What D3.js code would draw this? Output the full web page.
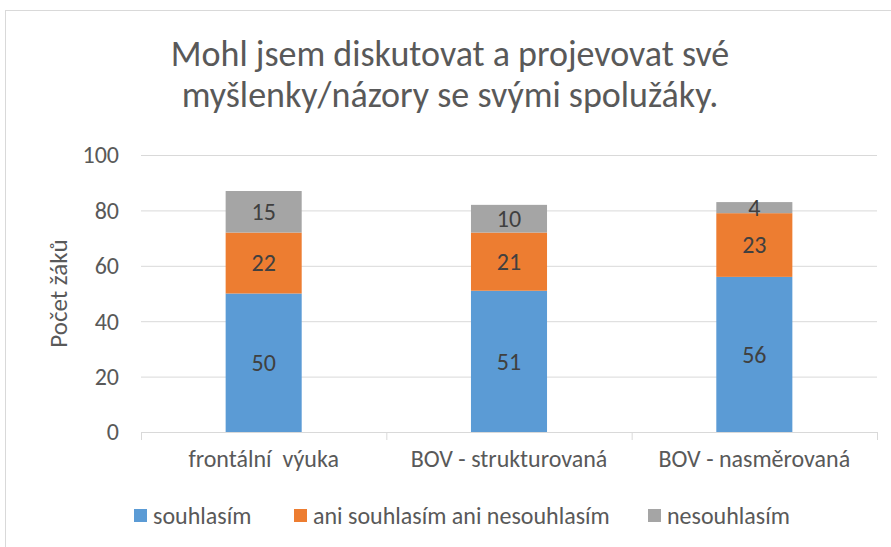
<!DOCTYPE html>
<html>
<head>
<meta charset="utf-8">
<script src="https://cdn.jsdelivr.net/npm/d3@7"></script>
<style>
body { margin: 0; background: #fff; }
svg { font-family: Carlito, "Noto Sans", sans-serif; }
</style>
</head>
<body>
<svg width="891" height="547"></svg>
<script>
var categories = ["frontální  výuka", "BOV - strukturovaná", "BOV - nasměrovaná"];
var seriesNames = ["souhlasím", "ani souhlasím ani nesouhlasím", "nesouhlasím"];
var souhlasim = [50, 51, 56];
var ani = [22, 21, 23];
var nesouhlasim = [15, 10, 4];
var yTicks = [0, 20, 40, 60, 80, 100];
var colors = ["#5B9BD5", "#ED7D31", "#A5A5A5"];

var rows = categories.map(function(c, i) {
    return { cat: c, s0: souhlasim[i], s1: ani[i], s2: nesouhlasim[i] };
});

var svg = d3.select("svg");

// chart frame
svg.append("rect")
    .attr("x", 5.5).attr("y", 10.5)
    .attr("width", 900).attr("height", 600)
    .attr("fill", "none").attr("stroke", "#d9d9d9");

var x = d3.scaleBand().domain(categories).range([141, 877]).paddingInner(0).paddingOuter(0);
var y = d3.scaleLinear().domain([0, 100]).range([432, 155]);

// gridlines
svg.append("g").selectAll("line")
    .data(yTicks.slice(1))
    .enter().append("line")
    .attr("x1", 141).attr("x2", 877)
    .attr("y1", d => y(d) + 0.5).attr("y2", d => y(d) + 0.5)
    .attr("stroke", "#d9d9d9").attr("stroke-width", 1);

// y tick labels
svg.append("g").selectAll("text")
    .data(yTicks)
    .enter().append("text")
    .attr("x", 119).attr("y", d => y(d))
    .attr("dy", "0.35em")
    .attr("text-anchor", "end")
    .attr("font-size", 24).attr("fill", "#595959")
    .text(d => d);

var stack = d3.stack().keys(["s0", "s1", "s2"]);
var layers = stack(rows);
var barW = x.bandwidth() * 0.31;

var groups = svg.append("g").selectAll("g")
    .data(layers)
    .enter().append("g")
    .attr("fill", (d, i) => colors[i]);

groups.selectAll("rect")
    .data(d => d)
    .enter().append("rect")
    .attr("x", d => x(d.data.cat) + (x.bandwidth() - barW) / 2)
    .attr("y", d => y(d[1]))
    .attr("width", barW)
    .attr("height", d => y(d[0]) - y(d[1]));

groups.selectAll("text")
    .data(d => d)
    .enter().append("text")
    .attr("x", d => x(d.data.cat) + x.bandwidth() / 2)
    .attr("y", d => (y(d[0]) + y(d[1])) / 2)
    .attr("dy", "0.35em")
    .attr("text-anchor", "middle")
    .attr("font-size", 24).attr("fill", "#404040")
    .text(d => d[1] - d[0]);

// x axis line + ticks
var ax = svg.append("g");
ax.append("line")
    .attr("x1", 141).attr("x2", 877)
    .attr("y1", 432.5).attr("y2", 432.5)
    .attr("stroke", "#d9d9d9");
var tickXs = categories.map(c => x(c)).concat([x.range()[1]]);
ax.selectAll("line.tk")
    .data(tickXs)
    .enter().append("line")
    .attr("class", "tk")
    .attr("x1", d => d + 0.5).attr("x2", d => d + 0.5)
    .attr("y1", 432).attr("y2", 440)
    .attr("stroke", "#d9d9d9");
ax.selectAll("text")
    .data(categories)
    .enter().append("text")
    .attr("x", d => x(d) + x.bandwidth() / 2)
    .attr("y", 467)
    .attr("text-anchor", "middle")
    .attr("font-size", 24).attr("fill", "#595959")
    .style("white-space", "pre")
    .attr("xml:space", "preserve")
    .text(d => d);

// y axis title
svg.append("text")
    .attr("transform", "translate(67," + y(50) + ") rotate(-90)")
    .attr("text-anchor", "middle")
    .attr("font-size", 25).attr("fill", "#595959")
    .text("Počet žáků");

// title
var title = ["Mohl jsem diskutovat a projevovat své", "myšlenky/názory se svými spolužáky."];
svg.append("g").selectAll("text")
    .data(title)
    .enter().append("text")
    .attr("x", 450)
    .attr("y", (d, i) => 66 + i * 41)
    .attr("text-anchor", "middle")
    .attr("font-size", 36).attr("fill", "#595959")
    .text(d => d);

// legend
var legX = [134, 294, 648];
var leg = svg.append("g").selectAll("g")
    .data(seriesNames)
    .enter().append("g")
    .attr("transform", (d, i) => "translate(" + legX[i] + ",516)");
leg.append("rect")
    .attr("x", 0).attr("y", -7)
    .attr("width", 13).attr("height", 13)
    .attr("fill", (d, i) => colors[i]);
leg.append("text")
    .attr("x", 19).attr("y", 0)
    .attr("dy", "0.33em")
    .attr("font-size", 24).attr("fill", "#595959")
    .text(d => d);
</script>
</body>
</html>
